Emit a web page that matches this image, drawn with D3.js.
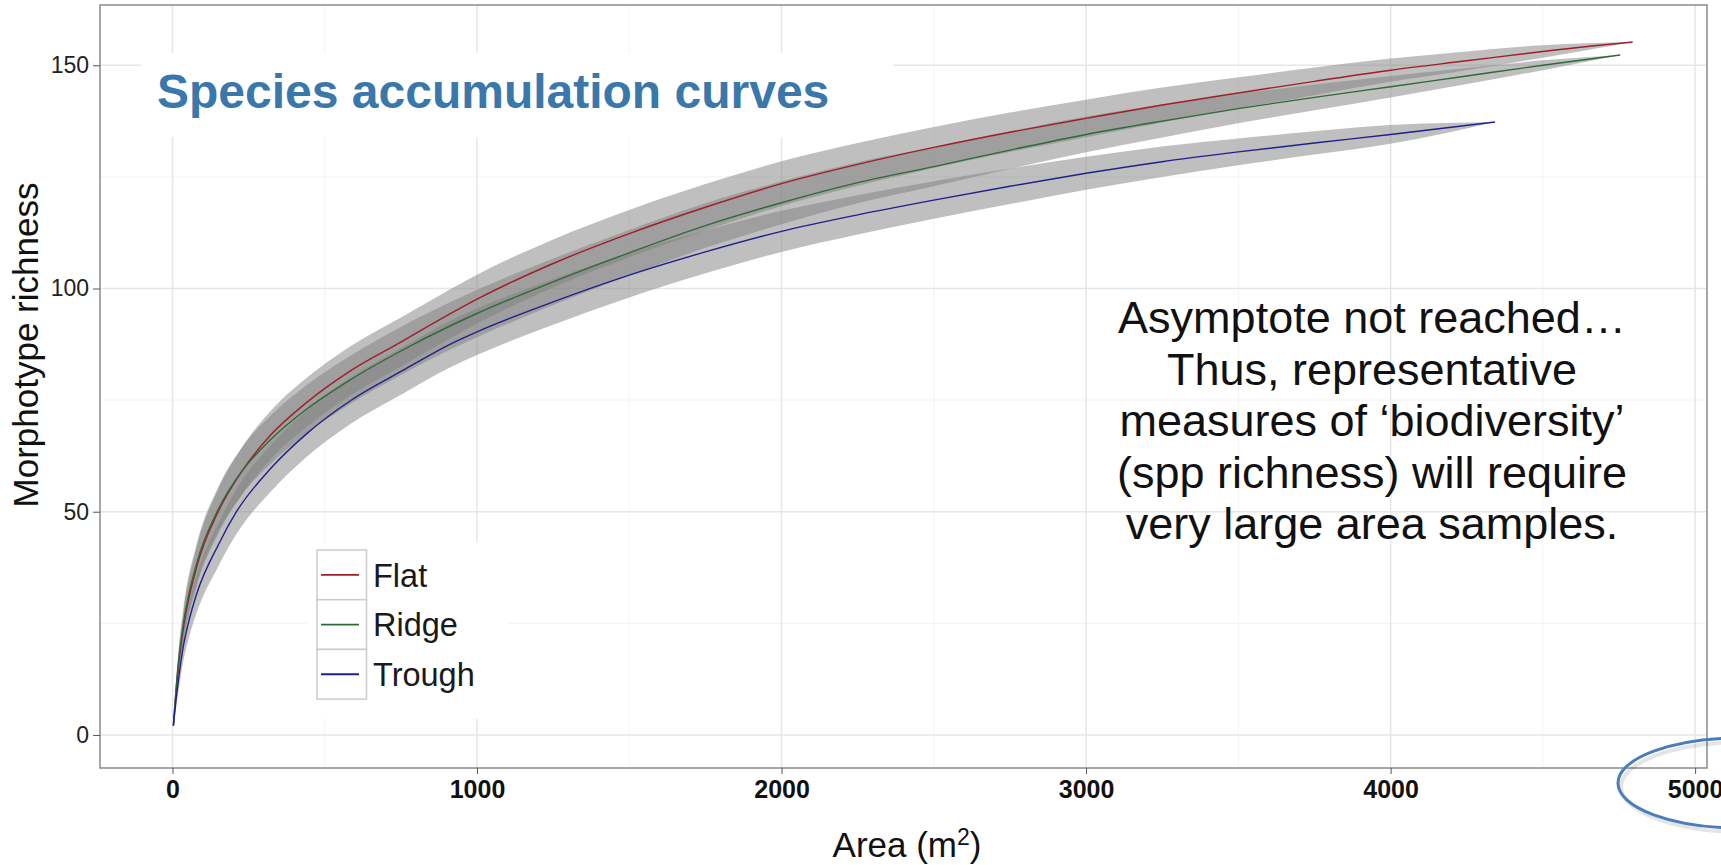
<!DOCTYPE html>
<html>
<head>
<meta charset="utf-8">
<script src="https://cdn.jsdelivr.net/npm/d3@7"></script>
<style>
  body { margin: 0; background: #fff; }
  svg { display: block; font-family: "Liberation Sans", Arial, sans-serif; }
</style>
</head>
<body>
<div id="chart"></div>
<script>
// series (area in m2, richness, half width of the grey band)
const seriesNames = ["Flat", "Ridge", "Trough"];
const seriesColors = ["#a11d2a", "#2e6a36", "#20208c"];

const areaFlat = [3, 8, 19, 36, 79, 150, 227, 320, 441, 583, 750, 911, 1000, 1250, 1500, 1750, 2000, 2250, 2500, 2750, 3000, 3250, 3500, 3750, 4000, 4250, 4500, 4795];
const richFlat = [2.2, 6.5, 15, 24, 37.5, 50, 59, 67, 74.5, 81.5, 88, 94.3, 97.6, 105.6, 112.3, 118.2, 123.5, 127.8, 131.6, 135, 138.1, 141.1, 143.8, 146.4, 148.9, 151, 153.1, 155.2];
const ciFlat = [0.3, 1.5, 2.6, 3.5, 4.4, 5, 5.3, 5.4, 5.5, 5.5, 5.5, 5.5, 5.5, 5.4, 5.3, 5.2, 5, 4.8, 4.6, 4.4, 4.2, 3.9, 3.5, 3.1, 2.6, 2.1, 1.4, 0];

const areaRidge = [3, 8, 19, 36, 79, 150, 227, 320, 441, 583, 750, 911, 1000, 1250, 1500, 1750, 2000, 2250, 2500, 2750, 3000, 3250, 3500, 3750, 4000, 4250, 4500, 4754];
const richRidge = [2.2, 7, 15.8, 25, 38.3, 50.5, 59, 66, 73, 79.5, 86, 91.6, 94.4, 101.5, 108, 114.1, 119.2, 123.7, 127.3, 131, 134.5, 137.5, 140.3, 142.8, 145.2, 147.6, 150, 152.3];
const ciRidge = [0.3, 1.5, 2.6, 3.5, 4.4, 5, 5.3, 5.4, 5.4, 5.4, 5.4, 5.3, 5.3, 5.2, 5.1, 5, 4.8, 4.6, 4.4, 4.2, 4, 3.7, 3.3, 2.9, 2.4, 1.8, 1.1, 0];

const areaTrough = [3, 8, 19, 36, 52, 79, 150, 210, 320, 441, 583, 758, 911, 1000, 1250, 1500, 1750, 2000, 2250, 2500, 2750, 3000, 3250, 3500, 3750, 4000, 4343];
const richTrough = [2, 5.5, 12, 20, 25, 31.5, 42.5, 50, 59.5, 67.5, 74.8, 81.7, 87.5, 90.3, 97, 103, 108.2, 112.8, 116.5, 119.8, 122.9, 125.8, 128.4, 130.6, 132.6, 134.5, 137.3];
const ciTrough = [0.3, 1.4, 2.5, 3.3, 3.7, 4.2, 4.8, 5, 5.2, 5.2, 5.2, 5.2, 5.2, 5.2, 5.1, 5, 4.8, 4.6, 4.4, 4.2, 4, 3.7, 3.4, 3, 2.6, 2.1, 0];

const xTicks = [0, 1000, 2000, 3000, 4000, 5000];
const xMinor = [500, 1500, 2500, 3500, 4500];
const yTicks = [0, 50, 100, 150];
const yMinor = [25, 75, 125];

const titleText = "Species accumulation curves";
const noteLines = [
  "Asymptote not reached\u2026",
  "Thus, representative",
  "measures of \u2018biodiversity\u2019",
  "(spp richness) will require",
  "very large area samples."
];

const width = 1721, height = 865;
const panel = { left: 100, right: 1707, top: 5, bottom: 768 };

const series = [
  [areaFlat, richFlat, ciFlat],
  [areaRidge, richRidge, ciRidge],
  [areaTrough, richTrough, ciTrough]
].map((s, i) => ({
  name: seriesNames[i],
  color: seriesColors[i],
  pts: s[0].map((a, j) => ({ a: a, r: s[1][j], ci: s[2][j] }))
}));

const x = d3.scaleLinear().domain([-238, 5039]).range([panel.left, panel.right]);
const y = d3.scaleLinear().domain([-7.4, 163.5]).range([panel.bottom, panel.top]);

const svg = d3.select("#chart").append("svg")
  .attr("width", width)
  .attr("height", height);

svg.append("rect").attr("width", width).attr("height", height).attr("fill", "#fff");

svg.append("clipPath").attr("id", "clip")
  .append("rect")
  .attr("x", panel.left).attr("y", panel.top)
  .attr("width", panel.right - panel.left)
  .attr("height", panel.bottom - panel.top);

const grid = svg.append("g");
grid.selectAll(".xminor").data(xMinor).enter().append("line")
  .attr("x1", d => x(d)).attr("x2", d => x(d))
  .attr("y1", panel.top).attr("y2", panel.bottom)
  .attr("stroke", "#f3f3f3").attr("stroke-width", 1);
grid.selectAll(".yminor").data(yMinor).enter().append("line")
  .attr("x1", panel.left).attr("x2", panel.right)
  .attr("y1", d => y(d)).attr("y2", d => y(d))
  .attr("stroke", "#f3f3f3").attr("stroke-width", 1);
grid.selectAll(".xmajor").data(xTicks).enter().append("line")
  .attr("x1", d => x(d)).attr("x2", d => x(d))
  .attr("y1", panel.top).attr("y2", panel.bottom)
  .attr("stroke", "#e6e6e6").attr("stroke-width", 1.5);
grid.selectAll(".ymajor").data(yTicks).enter().append("line")
  .attr("x1", panel.left).attr("x2", panel.right)
  .attr("y1", d => y(d)).attr("y2", d => y(d))
  .attr("stroke", "#e6e6e6").attr("stroke-width", 1.5);

// white boxes behind the title and the legend hide the grid
svg.append("rect")
  .attr("x", 141).attr("y", 53).attr("width", 752).attr("height", 84)
  .attr("fill", "#fff");
svg.append("rect")
  .attr("x", 307).attr("y", 543).attr("width", 201).attr("height", 176)
  .attr("fill", "#fff");

const plot = svg.append("g").attr("clip-path", "url(#clip)");

const band = d3.area()
  .x(d => x(d.a))
  .y0(d => y(d.r - d.ci))
  .y1(d => y(d.r + d.ci))
  .curve(d3.curveMonotoneX);

const line = d3.line()
  .x(d => x(d.a))
  .y(d => y(d.r))
  .curve(d3.curveMonotoneX);

plot.selectAll(".band").data(series).enter().append("path")
  .attr("class", "band")
  .attr("d", d => band(d.pts))
  .attr("fill", "#808080")
  .attr("fill-opacity", 0.5);

plot.selectAll(".curve").data(series).enter().append("path")
  .attr("class", "curve")
  .attr("d", d => line(d.pts))
  .attr("fill", "none")
  .attr("stroke", d => d.color)
  .attr("stroke-width", 1.4);

svg.append("rect")
  .attr("x", panel.left).attr("y", panel.top)
  .attr("width", panel.right - panel.left)
  .attr("height", panel.bottom - panel.top)
  .attr("fill", "none")
  .attr("stroke", "#8a8a8a")
  .attr("stroke-width", 1.5);

// axes
const xAxis = svg.append("g")
  .attr("transform", `translate(0,${panel.bottom})`)
  .call(d3.axisBottom(x).tickValues(xTicks).tickFormat(d3.format("d")).tickSize(6).tickPadding(6));
xAxis.select(".domain").remove();
xAxis.selectAll("line").attr("stroke", "#555");
xAxis.selectAll("text")
  .style("font-family", "'Liberation Sans', Arial, sans-serif")
  .style("font-size", "25px")
  .style("font-weight", "bold")
  .attr("fill", "#111");

const yAxis = svg.append("g")
  .attr("transform", `translate(${panel.left},0)`)
  .call(d3.axisLeft(y).tickValues(yTicks).tickSize(7).tickPadding(4));
yAxis.select(".domain").remove();
yAxis.selectAll("line").attr("stroke", "#555");
yAxis.selectAll("text")
  .style("font-family", "'Liberation Sans', Arial, sans-serif")
  .style("font-size", "23px")
  .attr("fill", "#222");

const xTitle = svg.append("text")
  .attr("x", 907).attr("y", 857)
  .attr("text-anchor", "middle")
  .style("font-size", "35px")
  .attr("fill", "#111");
xTitle.append("tspan").text("Area (m");
xTitle.append("tspan").text("2").attr("dy", -12).style("font-size", "23px");
xTitle.append("tspan").text(")").attr("dy", 12);

svg.append("text")
  .attr("transform", "translate(38,345) rotate(-90)")
  .attr("text-anchor", "middle")
  .style("font-size", "35px")
  .attr("fill", "#111")
  .text("Morphotype richness");

// title
svg.append("text")
  .attr("x", 157).attr("y", 108)
  .style("font-size", "48px")
  .style("font-weight", "bold")
  .attr("fill", "#3a77ab")
  .text(titleText);

// note
svg.append("g").selectAll("text").data(noteLines).enter().append("text")
  .attr("x", 1372)
  .attr("y", (d, i) => 333 + i * 51.5)
  .attr("text-anchor", "middle")
  .style("font-size", "45px")
  .attr("fill", "#111")
  .text(d => d);

// legend
const legend = svg.append("g").attr("transform", "translate(317,550)");
const keyH = 49.7;
const item = legend.selectAll(".item").data(series).enter().append("g")
  .attr("transform", (d, i) => `translate(0,${i * keyH})`);
item.append("rect")
  .attr("width", 49.5).attr("height", keyH)
  .attr("fill", "#fff")
  .attr("stroke", "#cbcbcb")
  .attr("stroke-width", 1.5);
item.append("line")
  .attr("x1", 4).attr("x2", 42)
  .attr("y1", keyH / 2).attr("y2", keyH / 2)
  .attr("stroke", d => d.color)
  .attr("stroke-width", 1.8);
item.append("text")
  .attr("x", 56).attr("y", keyH / 2)
  .attr("dy", "0.36em")
  .style("font-size", "32.5px")
  .attr("fill", "#1a1a1a")
  .text(d => d.name);

// circled 5000 on the slide
svg.append("ellipse")
  .attr("cx", 1743).attr("cy", 787).attr("rx", 122).attr("ry", 45)
  .attr("fill", "none").attr("stroke", "rgba(0,0,0,0.1)").attr("stroke-width", 4);
svg.append("ellipse")
  .attr("cx", 1740).attr("cy", 783).attr("rx", 122).attr("ry", 45)
  .attr("fill", "none").attr("stroke", "#4a7ebb").attr("stroke-width", 3);
</script>
</body>
</html>
